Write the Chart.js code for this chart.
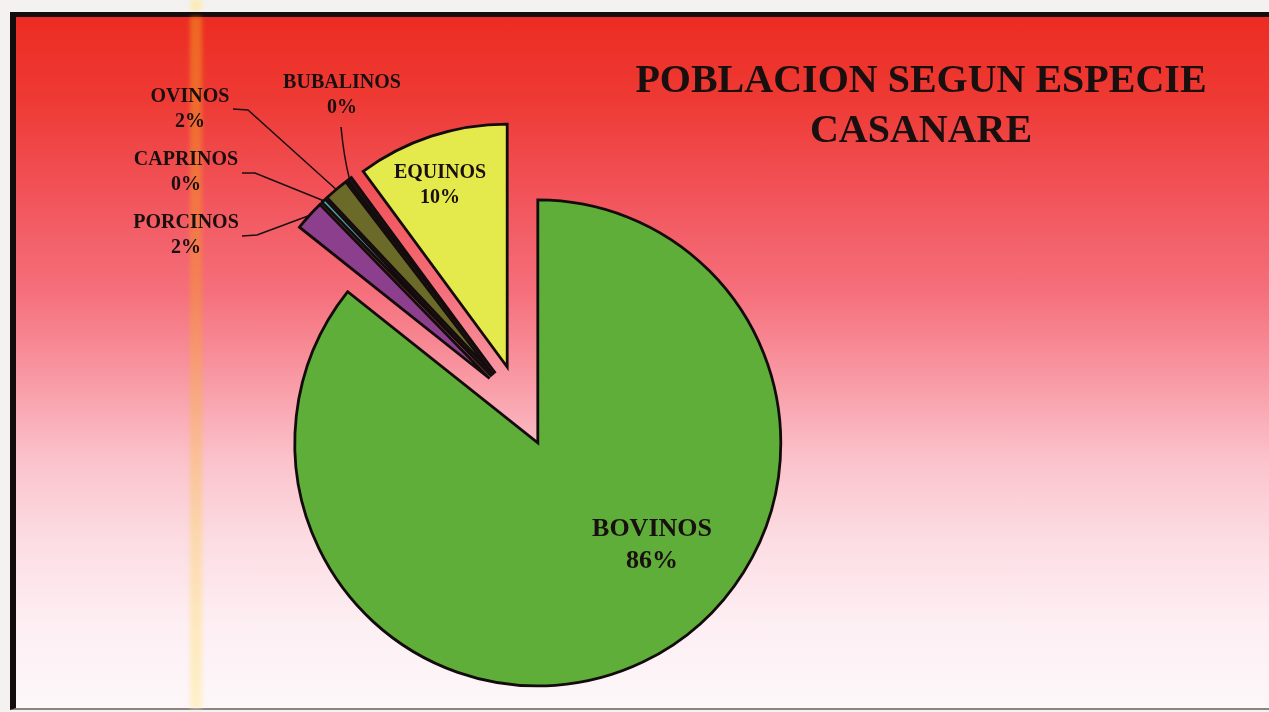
<!DOCTYPE html>
<html>
<head>
<meta charset="utf-8">
<title>Poblacion segun especie - Casanare</title>
<script src="https://cdn.jsdelivr.net/npm/chart.js@4.4.1/dist/chart.umd.min.js"></script>
<style>
  html, body { margin: 0; padding: 0; background: #f3f2f1; overflow: hidden; }
  #wrap { position: relative; width: 1269px; height: 712px; }
  #marco {
    position: absolute; left: 10px; top: 12px; width: 1270px; height: 691px;
    border-left: 6px solid #140c0c; border-top: 5px solid #140c0c; border-bottom: 2px solid #8a8585;
    background: linear-gradient(to bottom,
      #ec2c22 0%, #ee3a34 12%, #f15258 25%, #f5707c 40%, #f898a3 52%,
      #fbc2cb 64%, #fcdde3 76%, #fdeff3 88%, #fdf7fa 100%);
  }
  .franja { position: absolute; width: 12px; filter: blur(2px); }
  #franja1 { left: 174px; top: 0; bottom: 0;
    background: linear-gradient(to bottom, rgba(240,135,35,.65), rgba(245,150,55,.5) 40%,
      rgba(252,210,120,.5) 75%, rgba(255,238,180,.7)); }
  #franja2 { left: 190px; top: 0; height: 11px; background: rgba(255,232,160,.7); }
  canvas { position: absolute; left: 0; top: 0; }
</style>
</head>
<body>
<div id="wrap">
  <div class="franja" id="franja2"></div>
  <div id="marco"><div class="franja" id="franja1"></div></div>
  <canvas id="grafico" width="1269" height="712"></canvas>
</div>
<script>
// participacion por especie (%)
const especies = ['BOVINOS', 'PORCINOS', 'CAPRINOS', 'OVINOS', 'BUBALINOS', 'EQUINOS'];
const valores = [85.7, 2.0, 0.3, 1.6, 0.3, 10.1];
const colores = ['#5fae3a', '#8b3f8d', '#4aa3aa', '#6b6a28', '#1b1414', '#e4ea4c'];
const titulo = ['POBLACION SEGUN ESPECIE', 'CASANARE'];

const RADIO = 243;
const SEPARACION = 41; // cuanto se aleja cada porcion del centro
const FUENTE = '"Liberation Serif", "Times New Roman", serif';
const TINTA = '#1a0f0f';

// donde va el texto de cada porcion: x centro, y linea base, y si lleva linea guia
const rotulos = {
  BOVINOS:   { x: 652, y: 536, size: 26, gap: 32 },
  EQUINOS:   { x: 440, y: 178, size: 20, gap: 25 },
  OVINOS:    { x: 190, y: 102, size: 20, gap: 25, guia: [[233, 109], [248, 110]] },
  BUBALINOS: { x: 342, y: 88,  size: 20, gap: 25, guia: [[341, 127]], curva: [344, 158] },
  CAPRINOS:  { x: 186, y: 165, size: 20, gap: 25, guia: [[242, 173], [255, 173]] },
  PORCINOS:  { x: 186, y: 228, size: 20, gap: 25, guia: [[242, 236], [257, 235]] }
};

const total = valores.reduce((a, b) => a + b, 0);

// torta explotada: cada porcion se corre hacia afuera por su angulo medio
// (el offset de chart.js recorta el angulo de las porciones finas)
const explotar = {
  id: 'explotar',
  beforeDatasetsDraw(chart) {
    const { left, right, top, bottom } = chart.chartArea;
    const cx = (left + right) / 2;
    const cy = (top + bottom) / 2;
    chart.getDatasetMeta(0).data.forEach(arc => {
      const medio = (arc.startAngle + arc.endAngle) / 2;
      arc.x = cx + Math.cos(medio) * SEPARACION;
      arc.y = cy + Math.sin(medio) * SEPARACION;
    });
  }
};

const etiquetas = {
  id: 'etiquetas',
  afterDatasetsDraw(chart) {
    const ctx = chart.ctx;
    const arcs = chart.getDatasetMeta(0).data;
    ctx.save();
    ctx.fillStyle = TINTA;
    ctx.strokeStyle = TINTA;
    ctx.textAlign = 'center';
    ctx.textBaseline = 'alphabetic';

    especies.forEach((nombre, i) => {
      const r = rotulos[nombre];
      const pct = Math.round(valores[i] / total * 100) + '%';
      ctx.font = 'bold ' + r.size + 'px ' + FUENTE;
      ctx.fillText(nombre, r.x, r.y);
      ctx.fillText(pct, r.x, r.y + r.gap);

      if (r.guia) {
        const arc = arcs[i];
        const medio = (arc.startAngle + arc.endAngle) / 2;
        const ax = arc.x + Math.cos(medio) * arc.outerRadius;
        const ay = arc.y + Math.sin(medio) * arc.outerRadius;
        ctx.lineWidth = 1.5;
        ctx.beginPath();
        ctx.moveTo(r.guia[0][0], r.guia[0][1]);
        for (let k = 1; k < r.guia.length; k++) ctx.lineTo(r.guia[k][0], r.guia[k][1]);
        if (r.curva) ctx.quadraticCurveTo(r.curva[0], r.curva[1], ax, ay);
        else ctx.lineTo(ax, ay);
        ctx.stroke();
      }
    });

    ctx.font = 'bold 40px ' + FUENTE;
    ctx.fillText(titulo[0], 921, 92);
    ctx.fillText(titulo[1], 921, 142);
    ctx.restore();
  }
};

new Chart(document.getElementById('grafico'), {
  type: 'pie',
  data: {
    labels: especies,
    datasets: [{
      data: valores,
      backgroundColor: colores,
      borderColor: '#140c0c',
      borderWidth: 2.8,
      borderJoinStyle: 'miter',
      clip: false
    }]
  },
  options: {
    responsive: false,
    animation: false,
    devicePixelRatio: 1,
    radius: RADIO,
    layout: { padding: { left: 0, right: 229, top: 100, bottom: 0 } },
    events: [],
    plugins: {
      legend: { display: false },
      tooltip: { enabled: false }
    }
  },
  plugins: [explotar, etiquetas]
});
</script>
</body>
</html>
